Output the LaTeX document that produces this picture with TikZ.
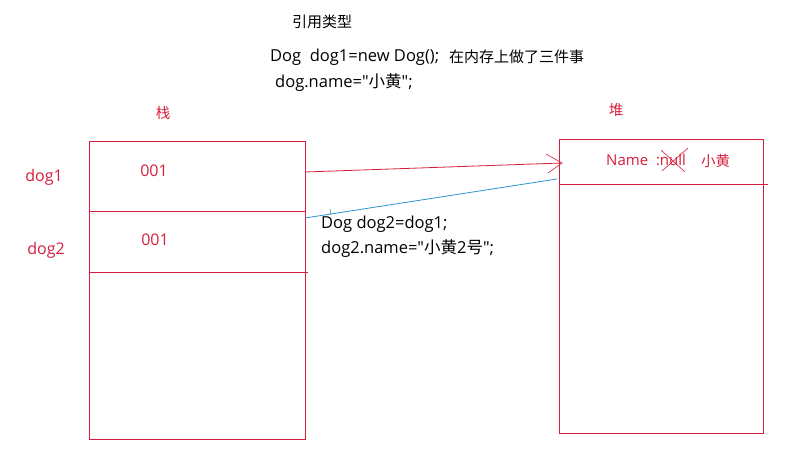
\documentclass[tikz,border=0pt]{standalone}
\usepackage{fontspec}
\setmainfont{Open Sans}[Ligatures=TeXOff]
\newfontfamily\cjk{Noto Sans CJK SC}
\definecolor{lred}{RGB}{214,30,60}
\definecolor{lblue}{RGB}{40,150,205}
\begin{document}
\begin{tikzpicture}[x=1pt,y=-1pt,
  box/.style={draw=lred,line width=0.8pt},
  rtext/.style={text=lred,font=\fontsize{16}{18}\selectfont,inner sep=0pt},
  rcjk/.style={text=lred,font=\fontsize{14.5}{16}\selectfont\cjk,inner sep=0pt},
  btext/.style={text=black,font=\fontsize{16.5}{18}\selectfont,inner sep=0pt},
  ctext/.style={text=black,font=\fontsize{15}{16}\selectfont\cjk,inner sep=0pt}]
\useasboundingbox[fill=white] (0,0) rectangle (788,473);
% stack
\draw[box] (89,141) rectangle (305,439);
\coordinate (s1) at (89,211); \coordinate (s1e) at (305,211);
\coordinate (s2) at (89,272); \coordinate (s2e) at (308,272);
\draw[box] (s1) -- (s1e);
\draw[box] (s2) -- (s2e);
% heap
\draw[box] (559,139) rectangle (763,433);
\coordinate (h1) at (559,184); \coordinate (h1e) at (768,184);
\draw[box] (h1) -- (h1e);
% labels
\node[ctext] (title) at (322,22) {引用类型};
\node[btext,anchor=west] (code1) at (270,57) {Dog\ \ dog1=new Dog();};
\node[ctext,anchor=west] (note1) at (449,57) {在内存上做了三件事};
\node[btext,anchor=west] (code2) at (275,83) {dog.name="{\cjk 小黄}";};
\node[rcjk] (stack) at (163,113) {栈};
\node[rcjk] (heap) at (616,110) {堆};
\node[rtext] (dog1) at (44,177) {dog1};
\node[rtext] (dog2) at (46,250) {dog2};
\node[rtext] (v1) at (154,171) {001};
\node[rtext] (v2) at (155,240) {001};
\node[rtext,anchor=west,font=\fontsize{15}{17}\selectfont] (name) at (606,160) {Name\ \ :null};
\node[rcjk,anchor=west] (xh) at (701,161) {小黄};
\node[btext,anchor=west] (code3) at (321,224) {Dog dog2=dog1;};
\node[btext,anchor=west] (code4) at (321,249) {dog2.name="{\cjk 小黄}2{\cjk 号}";};
% cross out null
\draw[lred,line width=0.6pt] (661,150) -- (685,172);
\draw[lred,line width=0.6pt] (662,171) -- (688,148);
% red arrow
\coordinate (ra) at (305,172);
\coordinate (rb) at (562,163);
\draw[lred,line width=0.8pt] (ra) -- (rb);
\draw[lred,line width=0.6pt] (546,154) -- (rb) -- (548,173);
% blue arrow
\coordinate (ba) at (557,179);
\coordinate (bb) at (305,218);
\draw[lblue,line width=0.8pt] (ba) -- (bb);
\draw[lblue,line width=0.6pt] (330,209) -- (331,215);
\end{tikzpicture}
\end{document}
